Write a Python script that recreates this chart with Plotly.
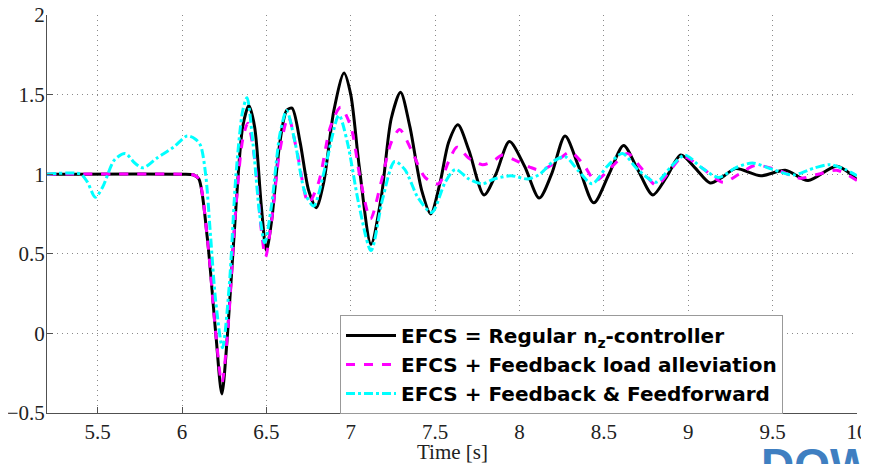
import plotly.graph_objects as go

# Black: EFCS = Regular nz-controller
t_reg = [5.2, 6.0, 6.07, 6.1, 6.15, 6.2, 6.236, 6.27, 6.32, 6.36, 6.396, 6.43, 6.47, 6.5, 6.53, 6.58, 6.62, 6.652,
         6.7, 6.75, 6.795, 6.84, 6.9, 6.96, 7.0, 7.05, 7.12, 7.18, 7.24, 7.295, 7.35, 7.42, 7.474, 7.53, 7.58, 7.635,
         7.7, 7.79, 7.86, 7.94, 8.03, 8.117, 8.19, 8.27, 8.35, 8.44, 8.53, 8.617, 8.7, 8.79, 8.87, 8.956, 9.04, 9.13,
         9.2, 9.28, 9.43, 9.575, 9.71, 9.88, 10.0]
v_reg = [1.0, 1.0, 0.995, 0.97, 0.6, 0.0, -0.38, 0.0, 0.8, 1.3, 1.43, 1.3, 0.8, 0.52, 0.7, 1.2, 1.4, 1.415,
         1.2, 0.9, 0.79, 0.95, 1.4, 1.635, 1.5, 1.05, 0.56, 0.85, 1.35, 1.515, 1.3, 0.9, 0.75, 0.95, 1.2, 1.31,
         1.15, 0.87, 1.0, 1.205, 1.05, 0.85, 1.0, 1.24, 1.05, 0.82, 1.0, 1.18, 1.03, 0.87, 0.98, 1.12, 1.04, 0.945,
         0.98, 1.035, 0.99, 1.025, 0.96, 1.05, 0.965]

# Magenta: EFCS + Feedback load alleviation
t_fb = [5.2, 6.0, 6.07, 6.1, 6.15, 6.2, 6.236, 6.27, 6.32, 6.36, 6.39, 6.43, 6.47, 6.495, 6.53, 6.58, 6.63, 6.68,
        6.75, 6.81, 6.88, 6.94, 7.0, 7.06, 7.117, 7.18, 7.24, 7.29, 7.36, 7.44, 7.52, 7.58, 7.63, 7.7, 7.78, 7.84,
        7.9, 7.97, 8.06, 8.13, 8.22, 8.3, 8.38, 8.45, 8.55, 8.64, 8.72, 8.81, 8.89, 8.97, 9.08, 9.206, 9.3, 9.396,
        9.52, 9.66, 9.77, 9.88, 10.0]
v_fb = [1.0, 1.0, 0.995, 0.97, 0.6, 0.0, -0.31, 0.0, 0.8, 1.22, 1.32, 1.1, 0.65, 0.48, 0.7, 1.15, 1.36, 1.15,
        0.82, 0.95, 1.3, 1.42, 1.3, 0.95, 0.72, 0.95, 1.2, 1.28, 1.15, 0.98, 0.94, 1.08, 1.17, 1.1, 1.06, 1.08,
        1.12, 1.09, 1.045, 1.025, 1.08, 1.14, 1.06, 0.96, 1.05, 1.13, 1.04, 0.93, 1.02, 1.11, 1.04, 0.95, 1.0, 1.055,
        1.03, 0.975, 1.0, 1.025, 0.96]

# Cyan: EFCS + Feedback & Feedforward
t_ff = [5.2, 5.4, 5.44, 5.486, 5.53, 5.6, 5.664, 5.72, 5.77, 5.85, 5.95, 6.03, 6.08, 6.11, 6.14, 6.17, 6.2, 6.24,
        6.28, 6.32, 6.36, 6.385, 6.42, 6.46, 6.49, 6.53, 6.58, 6.62, 6.67, 6.73, 6.78, 6.85, 6.93, 6.98, 7.05, 7.12,
        7.19, 7.26, 7.32, 7.4, 7.48, 7.56, 7.62, 7.7, 7.78, 7.85, 7.95, 8.05, 8.12, 8.2, 8.27, 8.35, 8.43, 8.52, 8.61,
        8.7, 8.81, 8.9, 8.98, 9.08, 9.18, 9.28, 9.38, 9.5, 9.62, 9.75, 9.84, 9.93, 10.0]
v_ff = [1.0, 1.0, 0.95, 0.855, 0.92, 1.09, 1.13, 1.07, 1.04, 1.1, 1.17, 1.24, 1.22, 1.18, 1.0, 0.6, 0.2, -0.09,
        0.3, 1.0, 1.4, 1.48, 1.2, 0.75, 0.57, 0.8, 1.25, 1.4, 1.2, 0.88, 0.8, 1.05, 1.37, 1.2, 0.8, 0.52,
        0.85, 1.08, 1.03, 0.85, 0.76, 0.95, 1.03, 0.97, 0.94, 0.97, 0.99, 0.97, 1.0, 1.08, 1.11, 1.02, 0.94, 1.05, 1.13,
        1.03, 0.95, 1.05, 1.12, 1.04, 0.98, 1.04, 1.07, 1.03, 0.995, 1.04, 1.06, 1.03, 0.99]

names = ["EFCS = Regular n<sub>z</sub>-controller",
         "EFCS + Feedback load alleviation",
         "EFCS + Feedback &amp; Feedforward"]

x_ticks = [5.5, 6, 6.5, 7, 7.5, 8, 8.5, 9, 9.5, 10]
x_labels = ["5.5", "6", "6.5", "7", "7.5", "8", "8.5", "9", "9.5", "10"]
y_ticks = [-0.5, 0, 0.5, 1, 1.5, 2]
y_labels = ["−0.5", "0", "0.5", "1", "1.5", "2"]

fig = go.Figure()
fig.add_trace(go.Scatter(x=t_reg, y=v_reg, mode="lines", name=names[0],
                         line=dict(color="#000000", width=3, shape="spline", smoothing=0.8)))
fig.add_trace(go.Scatter(x=t_fb, y=v_fb, mode="lines", name=names[1],
                         line=dict(color="#FF00FF", width=3, dash="dash", shape="spline", smoothing=0.8)))
fig.add_trace(go.Scatter(x=t_ff, y=v_ff, mode="lines", name=names[2],
                         line=dict(color="#00FFFF", width=3, dash="dashdot", shape="spline", smoothing=0.8)))

serif = "Liberation Serif"
tick_font = dict(family=serif, size=21, color="#222222")
# page has an 8px body margin, so the figure is 861x456 and sits at (8, 8)
PH = 398.0  # plot area height in px
fig.update_layout(
    width=861, height=456,
    margin=dict(l=39, r=12, t=7, b=51),
    paper_bgcolor="white", plot_bgcolor="white",
    font=dict(family=serif, size=20, color="#222222"),
    showlegend=True,
    legend=dict(x=(340 - 47) / 810, y=(413 - 315) / PH, xanchor="left", yanchor="top",
                bgcolor="white", bordercolor="#999999", borderwidth=1,
                font=dict(family="DejaVu Sans", size=20, color="black", weight="bold"),
                itemwidth=50, tracegroupgap=0),
    xaxis=dict(range=[5.2, 10], tickvals=x_ticks, ticktext=x_labels, automargin=False,
               ticklabeloverflow="allow",
               showgrid=True, gridcolor="#8a8a8a", griddash="1px,4px", gridwidth=1,
               showline=True, linecolor="#505050", linewidth=1,
               ticks="inside", ticklen=6, tickcolor="#505050",
               tickfont=tick_font, zeroline=False),
    yaxis=dict(range=[-0.5, 2], tickvals=y_ticks, ticktext=y_labels, automargin=False,
               ticklabeloverflow="allow", ticklabelstandoff=-3,
               showgrid=True, gridcolor="#8a8a8a", griddash="1px,4px", gridwidth=1,
               showline=True, linecolor="#505050", linewidth=1,
               ticks="inside", ticklen=6, tickcolor="#505050",
               tickfont=tick_font, zeroline=False),
    annotations=[
        dict(text="Time [s]", xref="paper", yref="paper", x=0.5, y=-(452 - 413) / PH,
             xanchor="center", yanchor="middle", showarrow=False,
             font=dict(family=serif, size=21, color="#222222")),
        dict(text="<b>DOWNLOAD</b>", xref="paper", yref="paper",
             x=(759 - 47) / 810, y=-(437 - 413) / PH, xanchor="left", yanchor="top",
             showarrow=False, font=dict(family="Liberation Sans", size=46, color="#3f7fc1")),
    ],
)

fig.write_html("out.html")
